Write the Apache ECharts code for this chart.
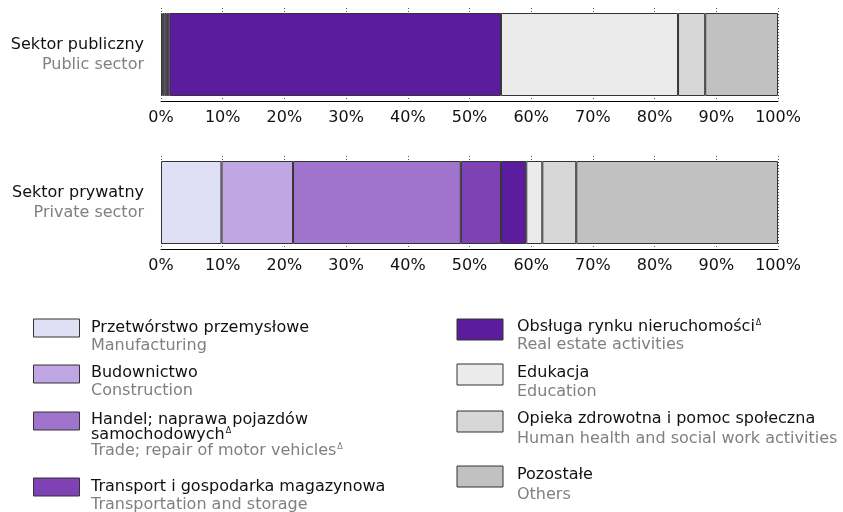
<!DOCTYPE html>
<html>
<head>
<meta charset="utf-8">
<script src="https://cdn.jsdelivr.net/npm/echarts@6/dist/echarts.min.js"></script>
<style>
  html, body { margin: 0; padding: 0; background: #ffffff; }
  #chart { width: 843px; height: 512px; }
</style>
</head>
<body>
<div id="chart"></div>
<script>
// Sectors (Polish / English)
const sectorsPl = ['Sektor publiczny', 'Sektor prywatny'];
const sectorsEn = ['Public sector', 'Private sector'];

// Sections of the economy (Polish / English)
const sectionsPl = [
  'Przetwórstwo przemysłowe',
  'Budownictwo',
  'Handel; naprawa pojazdów samochodowych',
  'Transport i gospodarka magazynowa',
  'Obsługa rynku nieruchomości',
  'Edukacja',
  'Opieka zdrowotna i pomoc społeczna',
  'Pozostałe'
];
const sectionsEn = [
  'Manufacturing',
  'Construction',
  'Trade; repair of motor vehicles',
  'Transportation and storage',
  'Real estate activities',
  'Education',
  'Human health and social work activities',
  'Others'
];
// names carrying the delta mark
const deltaPl = [false, false, true, false, true, false, false, false];
const deltaEn = [false, false, true, false, false, false, false, false];

// Shares in % (sum to 100 per sector)
const publicShares  = [0.3, 0.3, 0.35, 0.4, 53.75, 28.7, 4.4, 11.8];
const privateShares = [9.8, 11.6, 27.2, 6.5, 4.1, 2.6, 5.5, 32.7];

// Axis ticks
const tickMin = 0, tickMax = 100, tickStep = 10;

const colors = ['#dfe0f6', '#c0a7e3', '#a074cd', '#7e42b4', '#5b1c9d', '#ebebeb', '#d7d7d7', '#c1c1c1'];
const FONT = 'DejaVu Sans';
const shares = [publicShares, privateShares];

const chart = echarts.init(document.getElementById('chart'), null, { renderer: 'canvas' });

const grids = [
  { left: 161, right: 65, top: 8, height: 93 },
  { left: 161, right: 65, top: 156, height: 93 }
];

const xAxes = grids.map((g, i) => ({
  type: 'value', gridIndex: i, min: tickMin, max: tickMax, interval: tickStep,
  axisLine: { show: true, lineStyle: { color: '#000', width: 1 } },
  axisTick: { show: false },
  splitLine: { show: true, lineStyle: { color: '#555', width: 1, type: [1, 2] } },
  axisLabel: { formatter: '{value}%', fontFamily: FONT, fontSize: 16, color: '#111', margin: 9 }
}));

const yAxes = grids.map((g, i) => ({
  type: 'category', gridIndex: i, data: [sectorsPl[i]],
  axisLine: { show: false }, axisTick: { show: false }, splitLine: { show: false },
  axisLabel: {
    margin: 17, align: 'right',
    formatter: () => '{a|' + sectorsPl[i] + '}\n{b|' + sectorsEn[i] + '}',
    rich: {
      a: { fontFamily: FONT, fontSize: 16, color: '#111', lineHeight: 20, align: 'right' },
      b: { fontFamily: FONT, fontSize: 16, color: '#808080', lineHeight: 20, align: 'right' }
    }
  }
}));

const series = [];
shares.forEach((vals, gi) => {
  vals.forEach((v, si) => {
    series.push({
      type: 'bar', name: sectionsPl[si], xAxisIndex: gi, yAxisIndex: gi,
      stack: 'sector' + gi, barWidth: 83, silent: true,
      itemStyle: { color: colors[si], borderColor: '#333', borderWidth: 1 },
      data: [v]
    });
  });
});

// Legend layout: swatch position and text line centres
const legendLayout = [
  { sx: 33.5, sy: 319, sh: 18, tx: 91, lines: [328, 346] },
  { sx: 33.5, sy: 365, sh: 18, tx: 91, lines: [373, 391] },
  { sx: 33.5, sy: 412, sh: 18, tx: 91, lines: [420, 435, 451], wrapAfter: 'pojazdów' },
  { sx: 33.5, sy: 478, sh: 18, tx: 91, lines: [487, 505] },
  { sx: 457, sy: 319, sh: 21, tx: 517, lines: [327, 345] },
  { sx: 457, sy: 364, sh: 21, tx: 517, lines: [373, 392] },
  { sx: 457, sy: 411, sh: 21, tx: 517, lines: [419, 439] },
  { sx: 457, sy: 466, sh: 21, tx: 517, lines: [475, 495] }
];

function richLine(text, color, delta) {
  return {
    text: '{m|' + text + '}' + (delta ? '{d|Δ}' : ''),
    rich: {
      m: { fontFamily: FONT, fontSize: 16, fill: color, lineHeight: 19 },
      d: { fontFamily: FONT, fontSize: 8, fill: color, lineHeight: 19, verticalAlign: 'top', padding: [1, 0, 0, 1] }
    }
  };
}

const graphics = [];
legendLayout.forEach((L, i) => {
  graphics.push({
    type: 'rect', silent: true,
    shape: { x: L.sx, y: L.sy, width: 46, height: L.sh },
    style: { fill: colors[i], stroke: '#333', lineWidth: 1 }
  });
  let plLines = [sectionsPl[i]];
  if (L.wrapAfter) {
    const k = sectionsPl[i].indexOf(L.wrapAfter) + L.wrapAfter.length;
    plLines = [sectionsPl[i].slice(0, k), sectionsPl[i].slice(k + 1)];
  }
  const allLines = plLines.map((t, j) => ({ t, c: '#111', d: deltaPl[i] && j === plLines.length - 1 }))
    .concat([{ t: sectionsEn[i], c: '#808080', d: deltaEn[i] }]);
  allLines.forEach((ln, j) => {
    const r = richLine(ln.t, ln.c, ln.d);
    graphics.push({
      type: 'text', silent: true,
      style: { x: L.tx, y: L.lines[j], text: r.text, rich: r.rich, verticalAlign: 'middle', align: 'left' }
    });
  });
});

chart.setOption({
  animation: false,
  backgroundColor: '#ffffff',
  grid: grids,
  xAxis: xAxes,
  yAxis: yAxes,
  series: series,
  graphic: graphics
});
</script>
</body>
</html>
